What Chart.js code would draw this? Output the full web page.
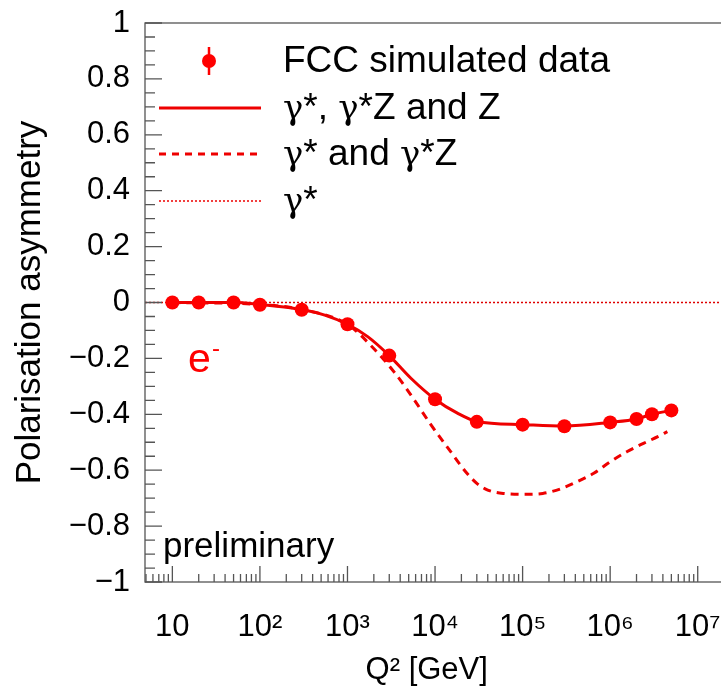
<!DOCTYPE html>
<html><head><meta charset="utf-8">
<script src="https://cdn.jsdelivr.net/npm/chart.js@4/dist/chart.umd.min.js"></script>
<style>
html,body{margin:0;padding:0;background:#fff;overflow:hidden;}
#wrap{width:721px;height:691px;overflow:hidden;position:relative;background:#fff;}
canvas{display:block;}
</style></head><body>
<div id="wrap"><canvas id="c" width="760" height="691"></canvas></div>
<script>
// ---- data ----
const q2Data   = [10, 20, 50, 100, 300, 1e3, 3e3, 1e4, 3e4, 1e5, 3e5, 1e6, 2e6, 3e6, 5e6];
const asymData = [0, 0, 0, -0.008, -0.026, -0.078, -0.19, -0.346, -0.427, -0.437, -0.443, -0.429, -0.417, -0.4, -0.386];

const q2Full   = [10, 20, 50, 100, 300, 550, 1e3, 1.7e3, 3e3, 5.3e3, 1e4, 1.8e4, 3e4, 1e5, 3e5, 1e6, 2e6, 3e6, 5e6];
const asymFull = [0, 0, 0, -0.007, -0.025, -0.045, -0.078, -0.122, -0.19, -0.271, -0.346, -0.396, -0.426, -0.437, -0.442, -0.429, -0.417, -0.40, -0.386];

const q2GZ   = [10, 100, 300, 1e3, 1.8e3, 3.4e3, 5.8e3, 9e3, 1.4e4, 2.3e4, 3e4, 4e4, 6e4, 1.1e5, 1.7e5, 2.7e5, 4.2e5, 6.5e5, 1e6, 1.55e6, 2.4e6, 3.5e6, 4.5e6];
const asymGZ = [0, -0.007, -0.025, -0.078, -0.15, -0.248, -0.349, -0.438, -0.52, -0.61, -0.647, -0.671, -0.683, -0.686, -0.683, -0.667, -0.641, -0.611, -0.57, -0.534, -0.504, -0.48, -0.462];

const q2Gamma   = [4.87, 3e7];
const asymGamma = [0, 0];

const xTickValues = [10, 1e2, 1e3, 1e4, 1e5, 1e6, 1e7];
const xTickLabels = ['10', '10\u00B2', '10\u00B3', '10\u2074', '10\u2075', '10\u2076', '10\u2077'];
const yTickValues = [-1, -0.8, -0.6, -0.4, -0.2, 0, 0.2, 0.4, 0.6, 0.8, 1];
const yTickLabels = ['\u22121', '\u22120.8', '\u22120.6', '\u22120.4', '\u22120.2', '0', '0.2', '0.4', '0.6', '0.8', '1'];

const legendLabels = ['FCC simulated data', '\u03B3*, \u03B3*Z and Z', '\u03B3* and \u03B3*Z', '\u03B3*'];

const X_MIN = 4.87, X_MAX = 3e7;
const FONT = "'Liberation Sans', Arial, Helvetica, sans-serif";
const SERIF = "'DejaVu Serif', 'Liberation Serif', serif";
const RED = '#ff0000';
const LINE_RED = '#ee0000';

const pts = (xs, ys) => xs.map((x, i) => ({x, y: ys[i]}));

const frameAndTicks = {
  id: 'frameAndTicks',
  afterDraw(chart) {
    const ctx = chart.ctx;
    const {left, right, top, bottom} = chart.chartArea;
    const xs = chart.scales.x, ys = chart.scales.y;
    ctx.save();
    ctx.strokeStyle = '#555';
    ctx.lineWidth = 1.3;
    ctx.strokeRect(left, top, right - left, bottom - top);
    ctx.beginPath();
    for (let k = -20; k <= 20; k++) {
      const p = ys.getPixelForValue(k * 0.05);
      const len = (k % 4 === 0) ? 17 : 10;
      ctx.moveTo(left, p); ctx.lineTo(left + len, p);
    }
    for (let e = 0; e <= 8; e++) {
      for (let d = 1; d <= 9; d++) {
        const v = d * Math.pow(10, e);
        if (v < xs.min || v > xs.max) continue;
        const p = xs.getPixelForValue(v);
        const len = d === 1 ? 16 : 8;
        ctx.moveTo(p, bottom); ctx.lineTo(p, bottom - len);
      }
    }
    ctx.stroke();
    ctx.restore();
  }
};

function drawMixed(ctx, text, x, y, size) {
  // Greek gamma drawn with a serif face (like ROOT's Symbol font), rest in sans
  let cx = x;
  for (const ch of text) {
    ctx.font = (ch === '\u03B3' ? (size - 3) + 'px ' + SERIF : size + 'px ' + FONT);
    ctx.fillText(ch, cx, y);
    cx += ctx.measureText(ch).width;
  }
}

const legendAndText = {
  id: 'legendAndText',
  afterDraw(chart) {
    const ctx = chart.ctx;
    ctx.save();
    const rows = [61, 108, 154, 201];
    const x0 = 159, x1 = 261, xm = 209, tx = 283;
    // marker with error bar
    ctx.strokeStyle = RED; ctx.fillStyle = RED; ctx.lineWidth = 2.5;
    ctx.beginPath(); ctx.moveTo(xm, rows[0] - 14); ctx.lineTo(xm, rows[0] + 14); ctx.stroke();
    ctx.beginPath(); ctx.arc(xm, rows[0], 7, 0, Math.PI * 2); ctx.fill();
    // solid
    ctx.strokeStyle = LINE_RED;
    ctx.lineWidth = 3; ctx.setLineDash([]);
    ctx.beginPath(); ctx.moveTo(x0, rows[1]); ctx.lineTo(x1, rows[1]); ctx.stroke();
    // dashed
    ctx.setLineDash([7, 6]);
    ctx.beginPath(); ctx.moveTo(x0, rows[2]); ctx.lineTo(x1, rows[2]); ctx.stroke();
    // dotted
    ctx.lineWidth = 1.5; ctx.setLineDash([2, 2]);
    ctx.beginPath(); ctx.moveTo(x0, rows[3]); ctx.lineTo(x1, rows[3]); ctx.stroke();
    ctx.setLineDash([]);
    // legend text
    ctx.fillStyle = '#000';
    ctx.textBaseline = 'alphabetic';
    ctx.textAlign = 'left';
    legendLabels.forEach((t, i) => drawMixed(ctx, t, tx, rows[i] + 11, 37));
    // e- label
    ctx.fillStyle = RED;
    ctx.font = '41px ' + FONT;
    ctx.fillText('e', 188, 371.5);
    ctx.font = '24px ' + FONT;
    ctx.fillText('-', 212, 356);
    // preliminary
    ctx.fillStyle = '#000';
    ctx.font = '35px ' + FONT;
    ctx.fillText('preliminary', 163, 557);
    ctx.restore();
  }
};

new Chart(document.getElementById('c'), {
  type: 'line',
  data: {
    datasets: [
      { label: legendLabels[0], data: pts(q2Data, asymData), showLine: false,
        pointRadius: 7, pointBackgroundColor: RED, pointBorderColor: RED, pointBorderWidth: 0, borderColor: RED },
      { label: legendLabels[1], data: pts(q2Full, asymFull), borderColor: LINE_RED, borderWidth: 3,
        pointRadius: 0, cubicInterpolationMode: 'monotone', fill: false },
      { label: legendLabels[2], data: pts(q2GZ, asymGZ), borderColor: LINE_RED, borderWidth: 3, borderDash: [8, 6],
        pointRadius: 0, cubicInterpolationMode: 'monotone', fill: false },
      { label: legendLabels[3], data: pts(q2Gamma, asymGamma), borderColor: '#dd0000', borderWidth: 1.5, borderDash: [2, 2],
        pointRadius: 0, fill: false }
    ]
  },
  options: {
    responsive: false, animation: false, devicePixelRatio: 1,
    layout: { padding: { top: 23, right: 20.5, left: 0, bottom: 0 } },
    plugins: { legend: { display: false }, tooltip: { enabled: false } },
    scales: {
      x: {
        type: 'logarithmic', min: X_MIN, max: X_MAX,
        afterBuildTicks: s => { s.ticks = xTickValues.map(v => ({ value: v })); },
        afterFit: s => { s.height = 109; },
        ticks: { autoSkip: false, maxRotation: 0, minRotation: 0, padding: 27, color: '#000',
          font: { family: FONT, size: 31 }, callback: (v, i) => xTickLabels[i] },
        grid: { display: false, drawTicks: false },
        border: { display: false },
        title: { display: true, text: 'Q\u00B2 [GeV]\u2003', color: '#000',
          font: { family: FONT, size: 31, lineHeight: 1.2 }, padding: { top: 0, bottom: 2 } }
      },
      y: {
        min: -1, max: 1,
        afterBuildTicks: s => { s.ticks = yTickValues.map(v => ({ value: v })); },
        afterFit: s => { s.width = 145; },
        ticks: { autoSkip: false, padding: 15, color: '#000',
          font: { family: FONT, size: 31, lineHeight: 0.3 }, callback: (v, i) => yTickLabels[i] },
        grid: { display: false, drawTicks: false },
        border: { display: false },
        title: { display: true, text: 'Polarisation asymmetry', color: '#000',
          font: { family: FONT, size: 35, lineHeight: 1.2 }, padding: { top: 9, bottom: 0 } }
      }
    }
  },
  plugins: [frameAndTicks, legendAndText]
});
</script>
</body></html>
